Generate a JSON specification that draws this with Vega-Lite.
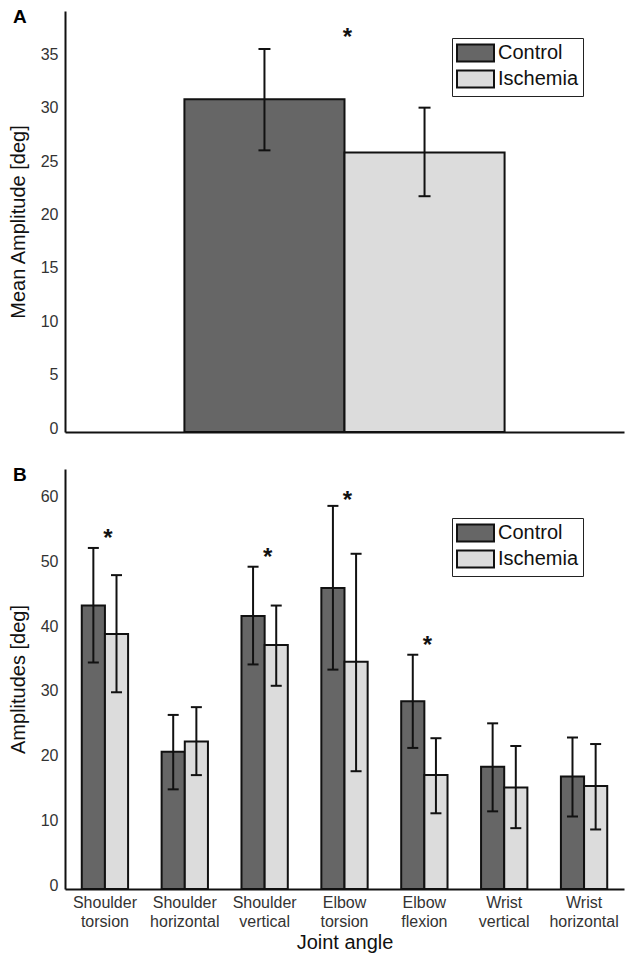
{
  "$schema": "https://vega.github.io/schema/vega-lite/v6.json",
  "padding": {"left": 8, "top": 8, "right": 2, "bottom": 2},
  "background": "white",
  "config": {
    "view": {"stroke": null},
    "font": "Liberation Sans",
    "axis": {
      "domainColor": "#111", "domainWidth": 2, "ticks": false, "grid": false,
      "labelFont": "Liberation Sans", "labelFontSize": 16, "labelColor": "#333",
      "titleFont": "Liberation Sans", "titleFontSize": 20, "titleFontWeight": "normal", "titleColor": "#111"
    },
    "title": {"font": "Liberation Sans", "fontSize": 19, "fontWeight": "bold", "color": "#000", "anchor": "start", "frame": "group", "dx": -52, "offset": -16},
    "legend": {
      "orient": "none", "title": null, "strokeColor": "#222", "padding": 4,
      "symbolType": "M-1,-0.85H2.7V0.85H-1Z", "symbolSize": 400, "symbolStrokeColor": "#111", "symbolStrokeWidth": 2, "symbolOpacity": 1,
      "labelFont": "Liberation Sans", "labelFontSize": 20, "labelColor": "#111", "labelOffset": 20, "rowPadding": 0
    }
  },
  "datasets": {
    "a": [
      {"joint": "Mean", "group": "Control", "mean": 31.2, "lo": 26.4, "hi": 35.9},
      {"joint": "Mean", "group": "Ischemia", "mean": 26.2, "lo": 22.1, "hi": 30.4}
    ],
    "sa": [{"joint": "Mean", "y": 37.6}],
    "b": [
      {"joint": "Shoulder torsion", "group": "Control", "mean": 43.8, "lo": 35.0, "hi": 52.7},
      {"joint": "Shoulder torsion", "group": "Ischemia", "mean": 39.4, "lo": 30.4, "hi": 48.5},
      {"joint": "Shoulder horizontal", "group": "Control", "mean": 21.2, "lo": 15.4, "hi": 26.9},
      {"joint": "Shoulder horizontal", "group": "Ischemia", "mean": 22.8, "lo": 17.6, "hi": 28.1},
      {"joint": "Shoulder vertical", "group": "Control", "mean": 42.2, "lo": 34.7, "hi": 49.8},
      {"joint": "Shoulder vertical", "group": "Ischemia", "mean": 37.7, "lo": 31.4, "hi": 43.8},
      {"joint": "Elbow torsion", "group": "Control", "mean": 46.5, "lo": 33.9, "hi": 59.2},
      {"joint": "Elbow torsion", "group": "Ischemia", "mean": 35.1, "lo": 18.2, "hi": 51.8},
      {"joint": "Elbow flexion", "group": "Control", "mean": 29.0, "lo": 21.8, "hi": 36.2},
      {"joint": "Elbow flexion", "group": "Ischemia", "mean": 17.6, "lo": 11.7, "hi": 23.3},
      {"joint": "Wrist vertical", "group": "Control", "mean": 18.9, "lo": 12.0, "hi": 25.6},
      {"joint": "Wrist vertical", "group": "Ischemia", "mean": 15.7, "lo": 9.4, "hi": 22.1},
      {"joint": "Wrist horizontal", "group": "Control", "mean": 17.4, "lo": 11.2, "hi": 23.4},
      {"joint": "Wrist horizontal", "group": "Ischemia", "mean": 15.9, "lo": 9.2, "hi": 22.4}
    ],
    "sb": [
      {"joint": "Shoulder torsion", "y": 55.1},
      {"joint": "Shoulder vertical", "y": 52.3},
      {"joint": "Elbow torsion", "y": 61.0},
      {"joint": "Elbow flexion", "y": 38.7}
    ]
  },
  "resolve": {"scale": {"color": "independent", "xOffset": "independent", "x": "independent", "y": "independent"}, "legend": {"color": "independent"}},
  "spacing": 30,
  "vconcat": [
    {
      "width": 559, "height": 421,
      "title": {"text": "A"},
      "encoding": {
        "x": {"field": "joint", "type": "nominal", "scale": {"paddingInner": 0, "paddingOuter": 0.373},
              "axis": {"labels": false, "title": null}}
      },
      "layer": [
        {
          "data": {"name": "a"},
          "mark": {"type": "bar", "stroke": "#111", "strokeWidth": 2},
          "encoding": {
            "xOffset": {"field": "group", "type": "nominal", "sort": ["Control", "Ischemia"]},
            "y": {"field": "mean", "type": "quantitative", "scale": {"domain": [0, 39.46], "nice": false},
                  "axis": {"title": "Mean Amplitude [deg]", "values": [0, 5, 10, 15, 20, 25, 30, 35], "labelPadding": 7, "labelOffset": -4, "titlePadding": 12}},
            "color": {"field": "group", "type": "nominal", "scale": {"domain": ["Control", "Ischemia"], "range": ["#666666", "#dcdcdc"]},
                      "legend": {"legendX": 387, "legendY": 27}}
          }
        },
        {
          "data": {"name": "a"},
          "mark": {"type": "rule", "color": "#111", "strokeWidth": 2},
          "encoding": {
            "xOffset": {"field": "group", "type": "nominal", "sort": ["Control", "Ischemia"]},
            "y": {"field": "lo", "type": "quantitative"},
            "y2": {"field": "hi"}
          }
        },
        {
          "data": {"name": "a"},
          "mark": {"type": "tick", "color": "#111", "size": 12, "thickness": 2, "opacity": 1},
          "encoding": {
            "xOffset": {"field": "group", "type": "nominal", "sort": ["Control", "Ischemia"]},
            "y": {"field": "lo", "type": "quantitative"}
          }
        },
        {
          "data": {"name": "a"},
          "mark": {"type": "tick", "color": "#111", "size": 12, "thickness": 2, "opacity": 1},
          "encoding": {
            "xOffset": {"field": "group", "type": "nominal", "sort": ["Control", "Ischemia"]},
            "y": {"field": "hi", "type": "quantitative"}
          }
        },
        {
          "data": {"name": "sa"},
          "mark": {"type": "text", "text": "*", "fontSize": 24, "fontWeight": "bold", "color": "#111", "baseline": "middle", "dy": 7, "dx": 3},
          "encoding": {
            "y": {"field": "y", "type": "quantitative"}
          }
        }
      ]
    },
    {
      "width": 559, "height": 420,
      "title": {"text": "B"},
      "encoding": {
        "x": {"field": "joint", "type": "nominal", "sort": null,
              "scale": {"domain": ["Shoulder torsion", "Shoulder horizontal", "Shoulder vertical", "Elbow torsion", "Elbow flexion", "Wrist vertical", "Wrist horizontal"], "paddingInner": 0.42, "paddingOuter": 0.21},
              "axis": {"title": "Joint angle", "labelAngle": 0, "labelExpr": "split(datum.label, ' ')", "labelLineHeight": 19, "labelPadding": 5, "titlePadding": 3, "labelColor": "#333"}}
      },
      "layer": [
        {
          "data": {"name": "b"},
          "mark": {"type": "bar", "stroke": "#111", "strokeWidth": 2},
          "encoding": {
            "xOffset": {"field": "group", "type": "nominal", "sort": ["Control", "Ischemia"]},
            "y": {"field": "mean", "type": "quantitative", "scale": {"domain": [0, 64.9], "nice": false},
                  "axis": {"title": "Amplitudes [deg]", "values": [0, 10, 20, 30, 40, 50, 60], "labelPadding": 7, "labelOffset": -4, "titlePadding": 12}},
            "color": {"field": "group", "type": "nominal", "scale": {"domain": ["Control", "Ischemia"], "range": ["#666666", "#dcdcdc"]},
                      "legend": {"legendX": 387, "legendY": 49}}
          }
        },
        {
          "data": {"name": "b"},
          "mark": {"type": "rule", "color": "#111", "strokeWidth": 2},
          "encoding": {
            "xOffset": {"field": "group", "type": "nominal", "sort": ["Control", "Ischemia"]},
            "y": {"field": "lo", "type": "quantitative"},
            "y2": {"field": "hi"}
          }
        },
        {
          "data": {"name": "b"},
          "mark": {"type": "tick", "color": "#111", "size": 11, "thickness": 2, "opacity": 1},
          "encoding": {
            "xOffset": {"field": "group", "type": "nominal", "sort": ["Control", "Ischemia"]},
            "y": {"field": "lo", "type": "quantitative"}
          }
        },
        {
          "data": {"name": "b"},
          "mark": {"type": "tick", "color": "#111", "size": 11, "thickness": 2, "opacity": 1},
          "encoding": {
            "xOffset": {"field": "group", "type": "nominal", "sort": ["Control", "Ischemia"]},
            "y": {"field": "hi", "type": "quantitative"}
          }
        },
        {
          "data": {"name": "sb"},
          "mark": {"type": "text", "text": "*", "fontSize": 24, "fontWeight": "bold", "color": "#111", "baseline": "middle", "dy": 7, "dx": 3},
          "encoding": {
            "y": {"field": "y", "type": "quantitative"}
          }
        }
      ]
    }
  ]
}
